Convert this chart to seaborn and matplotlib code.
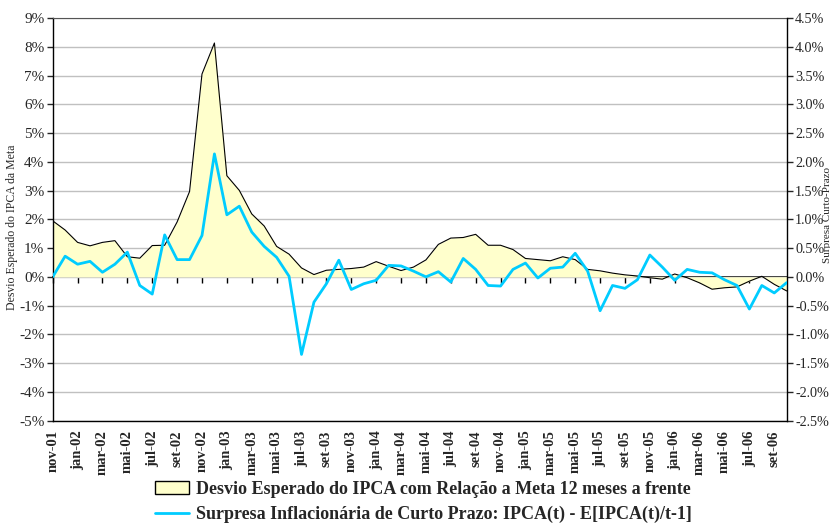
import numpy as np
import pandas as pd
import matplotlib
matplotlib.use("Agg")
import matplotlib.pyplot as plt
import seaborn as sns
from matplotlib.patches import Patch
from matplotlib.lines import Line2D
from matplotlib.ticker import MultipleLocator, FuncFormatter

# monthly labels nov-01 .. out-06
meses = ['jan', 'fev', 'mar', 'abr', 'mai', 'jun', 'jul', 'ago', 'set', 'out', 'nov', 'dez']
labels = [f"{meses[(10 + i) % 12]}-{(1 + (10 + i) // 12):02d}" for i in range(60)]

# desvio esperado do IPCA vs meta, 12 meses a frente (left axis, %)
desvio = [1.95, 1.63, 1.20, 1.08, 1.20, 1.26, 0.70, 0.65, 1.09, 1.10,
          1.91, 2.97, 7.06, 8.14, 3.52, 3.01, 2.19, 1.77, 1.06, 0.79,
          0.31, 0.08, 0.23, 0.26, 0.29, 0.34, 0.53, 0.37, 0.22, 0.34,
          0.59, 1.13, 1.35, 1.37, 1.48, 1.10, 1.10, 0.95, 0.64, 0.60,
          0.56, 0.70, 0.60, 0.26, 0.21, 0.13, 0.07, 0.03, -0.03, -0.08,
          0.10, -0.03, -0.21, -0.43, -0.38, -0.35, -0.15, 0.02, -0.26, -0.49]

# surpresa inflacionaria de curto prazo (right axis, %)
surpresa = [0.00, 0.36, 0.22, 0.27, 0.08, 0.22, 0.43, -0.15, -0.30, 0.73,
            0.30, 0.30, 0.72, 2.14, 1.08, 1.23, 0.78, 0.53, 0.34, 0.01,
            -1.35, -0.44, -0.12, 0.29, -0.22, -0.12, -0.06, 0.20, 0.19, 0.10,
            0.00, 0.09, -0.09, 0.32, 0.13, -0.15, -0.16, 0.13, 0.24, -0.02,
            0.15, 0.17, 0.41, 0.10, -0.59, -0.15, -0.20, -0.05, 0.38, 0.17,
            -0.06, 0.13, 0.08, 0.07, -0.05, -0.15, -0.56, -0.15, -0.28, -0.10]

leg_desvio = "Desvio Esperado do IPCA com Relação a Meta 12 meses a frente"
leg_surpresa = "Surpresa Inflacionária de Curto Prazo: IPCA(t) - E[IPCA(t)/t-1]"

df = pd.DataFrame({'mes': np.arange(len(labels)), 'desvio': desvio, 'surpresa': surpresa})

sns.set_style("white")
plt.rcParams['font.family'] = ['Liberation Serif', 'DejaVu Serif']

fill_col = '#FFFFCC'
blue = '#00CCFF'

fig = plt.figure(figsize=(8.3, 5.24), dpi=100)
ax = fig.add_axes([52.7 / 830, (524 - 420.5) / 524, 734 / 830, 402.2 / 524])

ax.fill_between(df['mes'], df['desvio'], 0, color=fill_col, lw=0, zorder=1)
sns.lineplot(data=df, x='mes', y='desvio', ax=ax, color='black', lw=0.8, legend=False, zorder=2)

ax.set_xlim(0, len(labels) - 1)
ax.set_ylim(-5, 9)
ax.yaxis.set_major_locator(MultipleLocator(1))
ax.yaxis.set_major_formatter(FuncFormatter(lambda v, p: f"{int(round(v))}%"))
ax.grid(axis='y', color='#C0C0C0', lw=1)
ax.set_axisbelow(True)
ax.tick_params(axis='y', direction='out', length=4, width=1, labelsize=11, pad=2, left=True)
ax.set_xticks(df['mes'][::2])
ax.set_xticklabels(labels[::2], rotation=90, fontweight='bold', fontsize=10.5)
ax.tick_params(axis='x', length=0, pad=7)
ax.set_xlabel('')
ax.set_ylabel('Desvio Esperado do IPCA da Meta', fontsize=8.5)
ax.yaxis.set_label_coords(-0.047, 0.48)
for s in ['left', 'bottom']:
    ax.spines[s].set_color('black')
    ax.spines[s].set_linewidth(1)
ax.spines['top'].set_color('#555555')
ax.spines['right'].set_visible(False)

# zero line with month ticks
zero_pos = (0 - ax.get_ylim()[0]) / (ax.get_ylim()[1] - ax.get_ylim()[0])
sec = ax.secondary_xaxis(zero_pos)
sec.set_xticks(df['mes'][::2])
sec.set_xticklabels([])
sec.tick_params(direction='out', length=4, width=1, color='black')
sec.spines['bottom'].set_color('black')
sec.spines['bottom'].set_linewidth(1.2)

ax2 = ax.twinx()
sns.lineplot(data=df, x='mes', y='surpresa', ax=ax2, color=blue, lw=2.0, legend=False, zorder=3)
ax2.set_ylim(-2.5, 4.5)
ax2.yaxis.set_major_locator(MultipleLocator(0.5))
ax2.yaxis.set_major_formatter(FuncFormatter(lambda v, p: f"{v:.1f}%"))
ax2.tick_params(axis='y', direction='out', length=4, width=1, labelsize=10.2, pad=2, right=True)
ax2.set_ylabel('Surpresa Curto-Prazo', fontsize=8, rotation=90)
ax2.yaxis.set_label_coords(1.050, 0.51)
ax2.spines['right'].set_color('black')
ax2.spines['right'].set_linewidth(1)
for s in ['top', 'left', 'bottom']:
    ax2.spines[s].set_visible(False)
ax2.grid(False)

handles = [Patch(facecolor=fill_col, edgecolor='black', lw=1),
           Line2D([0], [0], color=blue, lw=2.0)]
fig.legend(handles, [leg_desvio, leg_surpresa], loc='lower center',
           bbox_to_anchor=(0.51, -0.005), frameon=False, ncol=1, borderaxespad=0,
           borderpad=0.2, prop={'weight': 'bold', 'size': 13}, handlelength=1.9,
           handletextpad=0.4, labelspacing=0.45)

fig.savefig('out.png', dpi=100)
